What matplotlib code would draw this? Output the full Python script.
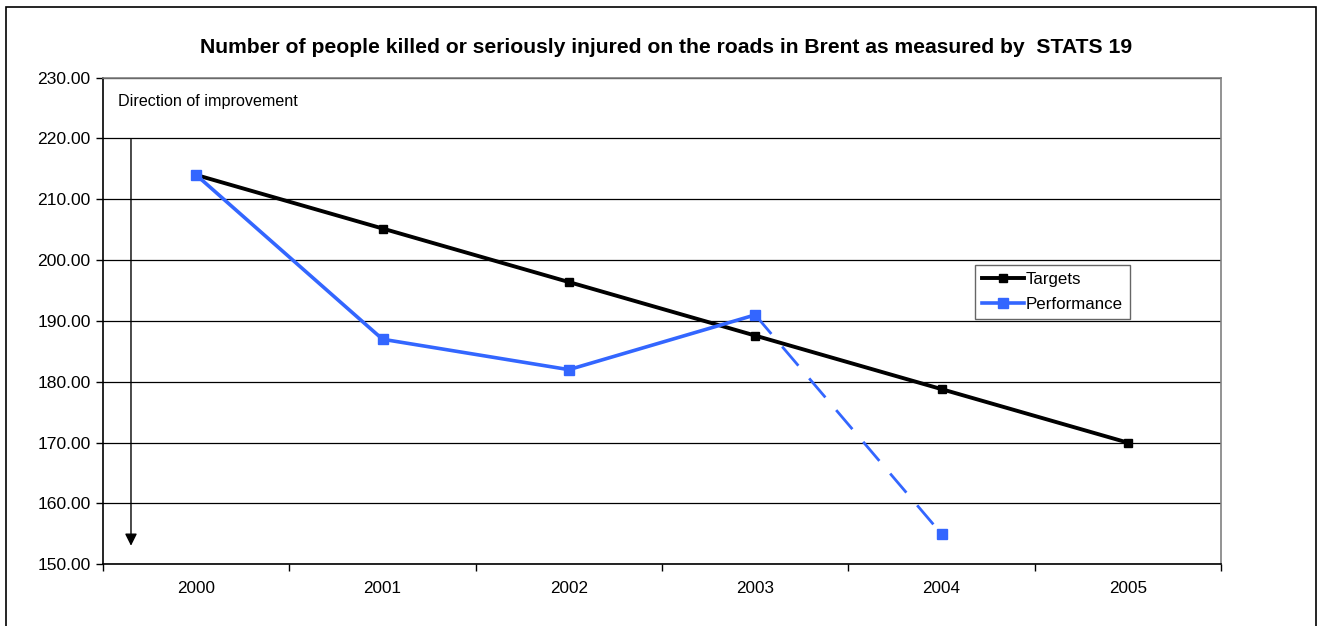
import matplotlib.pyplot as plt
import matplotlib.patches as patches
import numpy as np

plt.rcParams['font.family'] = ['Liberation Sans', 'DejaVu Sans']

# data
years = ['2000', '2001', '2002', '2003', '2004', '2005']
targets = [214.0, 205.2, 196.4, 187.6, 178.8, 170.0]
performance = [214.0, 187.0, 182.0, 191.0, 155.0]
n_solid = 4  # performance points joined by a solid line, the last one is dashed

blue = '#3366FF'

fig = plt.figure(figsize=(13.21, 6.26), dpi=100)
ax = fig.add_axes([0.078, 0.0985, 0.8463, 0.7775])

x = np.arange(len(years))
ax.plot(x, targets, color='black', lw=2.8, marker='s', ms=5.5, label='Targets', zorder=3)

px = np.arange(len(performance))
ax.plot(px[:n_solid], performance[:n_solid], color=blue, lw=2.6, marker='s', ms=7,
        label='Performance', zorder=4)
ax.plot(px[n_solid - 1:], performance[n_solid - 1:], color=blue, lw=2.0, ls=(0, (9, 6)),
        marker='s', ms=7, markevery=[1], zorder=4)

ax.set_xlim(-0.5, len(years) - 0.5)
ax.set_ylim(150, 230)
ax.set_yticks(np.arange(150, 231, 10))
ax.set_yticklabels([f'{v:.2f}' for v in np.arange(150, 231, 10)], fontsize=12.6)
ax.set_xticks(x)
ax.set_xticklabels(years, fontsize=12.3)
ax.tick_params(axis='x', which='major', length=0, pad=12)
ax.set_xticks(np.arange(-0.5, len(years)), minor=True)
ax.tick_params(axis='x', which='minor', length=5, width=1, direction='out')
ax.tick_params(axis='y', length=5, width=1, direction='out', pad=4)

ax.grid(axis='y', color='black', lw=0.9)
ax.set_axisbelow(True)
for side in ['top', 'right']:
    ax.spines[side].set_color('#808080')
    ax.spines[side].set_linewidth(1.2)
for side in ['left', 'bottom']:
    ax.spines[side].set_color('black')
    ax.spines[side].set_linewidth(1.2)

ax.text(-0.42, 226, 'Direction of improvement', fontsize=11.6, va='center', ha='left')
ax.annotate('', xy=(-0.35, 152.6), xytext=(-0.35, 220.3),
            arrowprops=dict(arrowstyle='-|>', color='black', lw=1, mutation_scale=18))

leg = ax.legend(loc='upper left', bbox_to_anchor=(0.7797, 0.6156), fontsize=12.2,
                frameon=True, fancybox=False, handlelength=2.5, handletextpad=0.1,
                borderpad=0.42, labelspacing=0.6, borderaxespad=0)
leg.get_frame().set_edgecolor('#404040')
leg.get_frame().set_linewidth(1)

fig.text(0.504, 0.924, 'Number of people killed or seriously injured on the roads in Brent as measured by  STATS 19',
         ha='center', va='center', fontsize=15.2, fontweight='bold')

frame = patches.Rectangle((6 / 1321, -0.05), (1316 - 6) / 1321, 1 - 7 / 626 + 0.05,
                          transform=fig.transFigure, fill=False, edgecolor='black', lw=1.2)
fig.patches.append(frame)

fig.savefig('out.png', dpi=100)
